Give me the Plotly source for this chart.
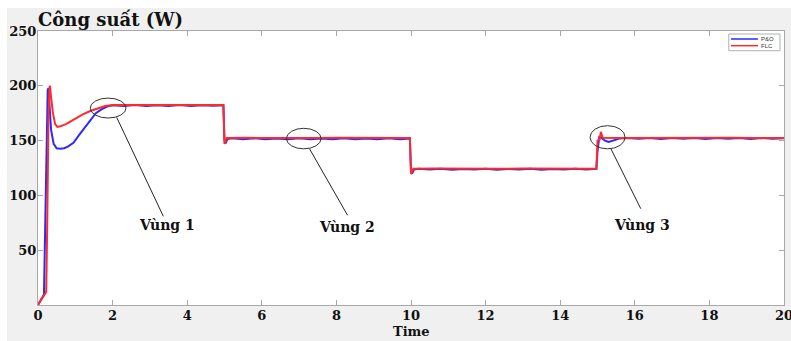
import plotly.graph_objects as go

# ---------------- data ----------------
series_names = ["P&O", "FLC"]

t_po = [0.00, 0.06, 0.12, 0.16, 0.19, 0.22, 0.26, 0.28, 0.31, 0.35, 0.42, 0.50, 0.60, 0.70, 0.80,
        0.95, 1.10, 1.25, 1.40, 1.55, 1.70, 1.85, 2.00,
        2.3, 2.6, 2.9, 3.2, 3.5, 3.8, 4.1, 4.4, 4.7, 4.97,
        5.00, 5.03, 5.08, 5.2,
        5.5, 5.8, 6.1, 6.4, 6.7, 7.0, 7.3, 7.6, 7.9, 8.2, 8.5, 8.8, 9.1, 9.4, 9.7, 9.97,
        10.00, 10.03, 10.08, 10.2,
        10.5, 10.8, 11.1, 11.4, 11.7, 12.0, 12.3, 12.6, 12.9, 13.2, 13.5, 13.8, 14.1, 14.4, 14.7, 14.97,
        15.00, 15.05, 15.10, 15.20, 15.30, 15.45, 15.60, 15.8,
        16.1, 16.4, 16.7, 17.0, 17.3, 17.6, 17.9, 18.2, 18.5, 18.8, 19.1, 19.4, 19.7, 20.0]
p_po = [0, 3, 7, 10, 60, 140, 196, 198, 180, 160, 147, 143, 142.5, 143, 144.5,
        148, 155, 162, 169, 175, 178.5, 181, 182.3,
        181.6, 182.4, 181.5, 182.3, 181.6, 182.4, 181.5, 182.3, 181.7, 182.2,
        150, 147.5, 151.5, 152.2,
        151.3, 152.1, 151.2, 152.0, 151.3, 152.1, 151.2, 152.0, 151.3, 152.1, 151.2, 152.0, 151.3, 152.1, 151.3, 152.0,
        122, 120, 123.5, 124.3,
        123.6, 124.3, 123.5, 124.2, 123.6, 124.3, 123.5, 124.2, 123.6, 124.3, 123.5, 124.2, 123.6, 124.3, 123.6, 124.3,
        140, 154, 152.5, 150, 148.8, 150.5, 152, 152.3,
        151.6, 152.4, 151.5, 152.3, 151.6, 152.4, 151.5, 152.3, 151.6, 152.4, 151.5, 152.3, 151.6, 152.2]

t_flc = [0.00, 0.04, 0.10, 0.16, 0.22, 0.25, 0.28, 0.31, 0.32, 0.35, 0.40, 0.46, 0.52, 0.60, 0.75,
         0.90, 1.05, 1.20, 1.40, 1.60, 1.80, 2.00,
         2.5, 3.0, 3.5, 4.0, 4.5, 4.97,
         5.00, 5.06,
         5.6, 6.2, 6.8, 7.4, 8.0, 8.6, 9.2, 9.97,
         10.00, 10.06,
         10.6, 11.2, 11.8, 12.4, 13.0, 13.6, 14.2, 14.97,
         15.00, 15.06, 15.09, 15.14,
         15.6, 16.2, 16.8, 17.4, 18.0, 18.6, 19.2, 20.0]
p_flc = [0, 2.5, 6, 8.5, 12, 80, 170, 199, 200, 190, 175, 165, 162.5, 163, 165,
         168, 171, 174, 177, 179.5, 181.5, 182.5,
         182.6, 182.4, 182.6, 182.4, 182.6, 182.5,
         147, 152.3,
         152.5, 152.3, 152.5, 152.3, 152.5, 152.3, 152.5, 152.4,
         119.5, 124.3,
         124.5, 124.3, 124.5, 124.3, 124.5, 124.3, 124.5, 124.4,
         150, 151, 158, 152.5,
         152.4, 152.5, 152.3, 152.5, 152.3, 152.5, 152.3, 152.4]

x_ticks = [0, 2, 4, 6, 8, 10, 12, 14, 16, 18, 20]
y_ticks = [50, 100, 150, 200, 250]

title_text = "Công suất (W)"
x_title = "Time"

# callouts: ellipse bounds (x0, x1, y0, y1), line (xs, ys, xe, ye), label position
zone_labels = ["Vùng 1", "Vùng 2", "Vùng 3"]
zone_ellipses = [(1.40, 2.36, 170.6, 188.8), (6.66, 7.59, 142.5, 161.2), (14.80, 15.74, 142.5, 163.6)]
zone_lines = [(2.11, 171.2, 3.36, 80.9), (7.28, 142.5, 8.30, 81.8), (15.36, 142.5, 16.16, 87.9)]
zone_label_pos = [(3.45, 73), (8.29, 71.5), (16.2, 73)]

colors = ["#2a2aff", "#ff2a2a"]

serif = "DejaVu Serif"

fig = go.Figure()
fig.add_trace(go.Scatter(x=t_po, y=p_po, mode="lines", name=series_names[0],
                         line=dict(color=colors[0], width=2)))
fig.add_trace(go.Scatter(x=t_flc, y=p_flc, mode="lines", name=series_names[1],
                         line=dict(color=colors[1], width=2)))

shapes = []
annotations = []

# white outer strips (figure margin outside the grey panel)
shapes.append(dict(type="rect", xref="paper", yref="paper", x0=-0.06, x1=-0.0416, y0=-0.2, y1=1.2,
                   fillcolor="white", line=dict(width=0), layer="above"))
shapes.append(dict(type="rect", xref="paper", yref="paper", x0=-0.06, x1=1.05, y0=1.084, y1=1.2,
                   fillcolor="white", line=dict(width=0), layer="above"))

for (x0, x1, y0, y1) in zone_ellipses:
    shapes.append(dict(type="circle", xref="x", yref="y", x0=x0, x1=x1, y0=y0, y1=y1,
                       line=dict(color="#333333", width=1)))
for (xs, ys, xe, ye) in zone_lines:
    shapes.append(dict(type="line", xref="x", yref="y", x0=xs, y0=ys, x1=xe, y1=ye,
                       line=dict(color="#222222", width=1)))
for lab, (lx, ly) in zip(zone_labels, zone_label_pos):
    annotations.append(dict(x=lx, y=ly, xref="x", yref="y", text="<b>%s</b>" % lab, showarrow=False,
                            font=dict(family=serif, size=14, color="#111111")))

# manual compact legend
shapes.append(dict(type="rect", xref="paper", yref="paper", x0=0.926, x1=0.9946, y0=0.928, y1=0.989,
                   fillcolor="white", line=dict(color="#b0b0b0", width=1)))
leg_y = [0.9708, 0.9464]
for name, col, ly in zip(series_names, colors, leg_y):
    shapes.append(dict(type="line", xref="paper", yref="paper", x0=0.9289, x1=0.9651, y0=ly, y1=ly,
                       line=dict(color=col, width=1.5)))
    annotations.append(dict(x=0.9664, y=ly, xref="paper", yref="paper", text=name, showarrow=False,
                            xanchor="left", yanchor="middle",
                            font=dict(family="Liberation Sans", size=6, color="#333333")))

annotations.append(dict(x=0.5, y=-0.095, xref="paper", yref="paper", text="<b>%s</b>" % x_title,
                        showarrow=False, xanchor="center", yanchor="middle",
                        font=dict(family=serif, size=13, color="#111111")))

axis_common = dict(showline=True, linecolor="#a8a8a8", linewidth=1, mirror="ticks",
                   ticks="inside", ticklen=5, tickcolor="#a8a8a8", showgrid=False, zeroline=False,
                   automargin=False, ticklabeloverflow="allow",
                   tickfont=dict(family=serif, size=13, color="#111111"))

fig.update_layout(
    width=791, height=341,
    margin=dict(l=38, r=7, t=31, b=36),
    paper_bgcolor="#f0f0f0",
    plot_bgcolor="white",
    showlegend=False,
    title=dict(text="<b>%s</b>" % title_text, x=38 / 791, xref="container", xanchor="left",
               y=1 - 20 / 341, yref="container", yanchor="middle",
               font=dict(family=serif, size=18, color="#111111")),
    shapes=shapes,
    annotations=annotations,
    xaxis=dict(range=[0, 20], tickvals=x_ticks, ticktext=["<b>%d</b>" % v for v in x_ticks],
               ticklabelstandoff=-2, **axis_common),
    yaxis=dict(range=[0, 250], tickvals=y_ticks, ticktext=["<b>%d</b>" % v for v in y_ticks],
               ticklabelstandoff=-2, **axis_common),
)

fig.write_html("out.html", config={"displayModeBar": False},
               post_script="document.body.style.margin='0';document.body.style.overflow='hidden';")
